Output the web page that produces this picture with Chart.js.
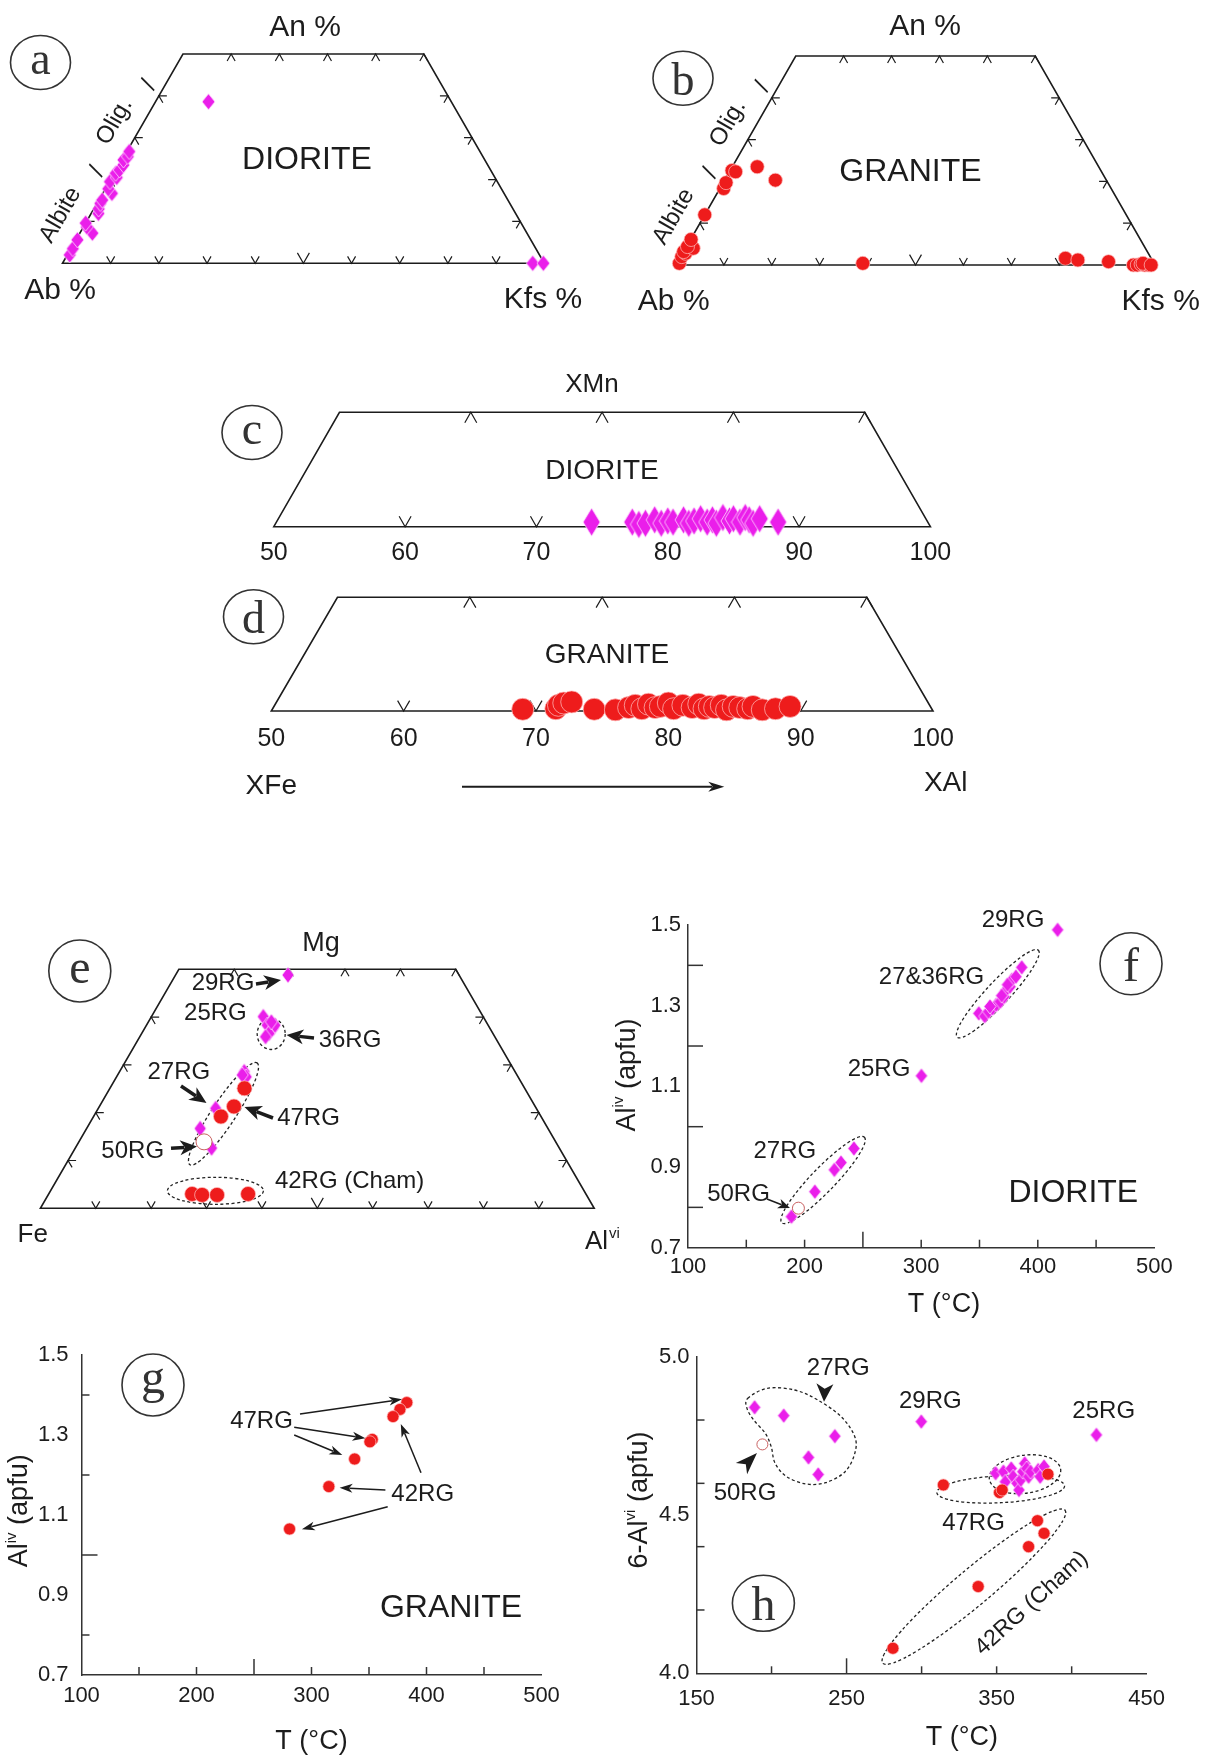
<!DOCTYPE html>
<html><head><meta charset="utf-8"><title>Mineral chemistry diagrams</title>
<script src="https://cdn.jsdelivr.net/npm/chart.js@4.4.1/dist/chart.umd.min.js"></script>
<style>html,body{margin:0;padding:0;background:#fff}#wrap{position:relative;width:1207px;height:1758px;overflow:hidden;background:#fff}#wrap canvas{position:absolute}</style>
</head><body><div id="wrap"></div><script>
// ======================= DATA =======================
// (a) Feldspar, DIORITE  — An %, Kfs %  (Ab = rest)
const aDioriteAn  = [2.0, 3.5, 5.6, 7.2, 8.7, 9.6, 11.9, 13.0, 14.3, 15.1, 16.7, 17.8, 19.5, 20.5, 21.5, 22.3, 23.5, 24.7, 25.5, 26.7, 38.6, 0.0, 0.0];
const aDioriteKfs = [0.5, 0.4, 0.3, 2.6, 0.7, 0.0, 1.5, 1.0, 0.7, 0.7, 1.9, 0.6, 0.1, 1.0, 0.3, 0.7, 0.9, 0.3, 0.8, 0.5, 11.0, 97.6, 99.8];
// (b) Feldspar, GRANITE
const bGraniteAn  = [0.4, 2.0, 2.8, 3.2, 4.0, 4.4, 6.1, 12.0, 18.3, 19.7, 22.6, 22.3, 23.5, 20.3, 0.4, 1.6, 1.2, 0.8, 0.0, 0.0, 0.2, 0.0, 0.0, 0.4, 0.0];
const bGraniteKfs = [0.5, 0.2, 0.6, 0.0, 1.6, 0.2, 0.1, 0.0, 0.8, 0.6, 0.4, 1.3, 5.2, 10.6, 38.8, 80.5, 83.3, 89.9, 95.5, 96.3, 97.0, 97.9, 98.7, 97.3, 99.2];
// (c) DIORITE — position on XFe→XAl axis, XMn
const cDioriteX  = [74.2, 77.3, 77.8, 78.3, 79.0, 79.5, 80.0, 80.4, 81.2, 81.6, 82.0, 82.5, 83.0, 83.4, 83.7, 84.2, 84.7, 85.0, 85.5, 85.9, 86.2, 86.5, 87.0, 88.4];
const cDioriteMn = [0.4, 0.4, 0.2, 0.3, 0.6, 0.3, 0.5, 0.4, 0.6, 0.3, 0.5, 0.7, 0.4, 0.6, 0.3, 0.8, 0.5, 0.7, 0.4, 0.8, 0.6, 0.3, 0.7, 0.4];
// (d) GRANITE
const dGraniteX  = [69.0, 71.5, 71.7, 72.1, 72.7, 74.4, 76.0, 77.0, 77.5, 78.0, 78.5, 79.0, 79.4, 80.0, 80.4, 81.1, 81.8, 82.3, 82.7, 83.1, 83.5, 84.0, 84.4, 84.9, 85.4, 86.0, 86.4, 87.1, 88.1, 89.2];
const dGraniteMn = [0.15, 0.2, 0.5, 0.7, 0.8, 0.15, 0.1, 0.3, 0.5, 0.2, 0.6, 0.3, 0.4, 0.7, 0.2, 0.5, 0.3, 0.6, 0.2, 0.4, 0.3, 0.5, 0.1, 0.4, 0.3, 0.2, 0.4, 0.1, 0.2, 0.4];
// (e) Fe – Mg – Al(vi) — Mg %, Al %
const eDioriteMg = [48.8, 40.1, 38.3, 37.7, 36.6, 35.9, 38.3, 39.0, 28.6, 27.5, 27.9, 20.9, 16.7, 12.6];
const eDioriteAl = [20.3, 20.2, 21.8, 23.2, 23.0, 22.7, 23.2, 22.2, 22.5, 23.4, 22.5, 21.2, 20.5, 24.6];
const eGraniteMg = [25.1, 21.3, 19.2, 3.0, 2.8, 2.8, 3.0];
const eGraniteAl = [24.3, 24.3, 23.0, 25.9, 27.8, 30.5, 36.0];
const e50rgMg = [13.9];
const e50rgAl = [22.6];
// (f) DIORITE — T (°C), Al(iv)
const fDioriteT    = [417, 349.4, 354.4, 357.7, 361.1, 364.4, 367.8, 371.1, 372.8, 376.2, 377.8, 381.2, 386.2, 359.0, 369.0, 374.0, 300.2, 242.3, 231.2, 225.5, 208.8, 188.7];
const fDioriteAliv = [1.488, 1.281, 1.274, 1.285, 1.293, 1.302, 1.310, 1.322, 1.339, 1.347, 1.364, 1.372, 1.395, 1.298, 1.325, 1.352, 1.126, 0.946, 0.911, 0.893, 0.839, 0.777];
const f50rgT = [194.7];
const f50rgAliv = [0.798];
// (g) GRANITE — T (°C), Al(iv)
const gGraniteT    = [382.9, 376.9, 370.9, 352.8, 350.8, 337.5, 315.1, 280.9];
const gGraniteAliv = [1.381, 1.364, 1.346, 1.289, 1.283, 1.240, 1.171, 1.065];
// (h) T (°C), 6 − Al(vi)
const hDioriteT    = [188.7, 208.1, 242.2, 224.6, 231.1, 299.8, 416.5, 349.3, 354.5, 355.8, 359.7, 361.0, 363.6, 364.9, 366.1, 367.4, 368.7, 370.0, 371.3, 372.6, 377.7, 379.0, 381.6];
const hDioriteAlvi = [4.840, 4.814, 4.749, 4.682, 4.628, 4.795, 4.753, 4.632, 4.637, 4.605, 4.647, 4.621, 4.600, 4.579, 4.611, 4.637, 4.663, 4.647, 4.621, 4.637, 4.642, 4.621, 4.653];
const hGraniteT    = [314.5, 351.9, 353.7, 384.2, 377.2, 381.6, 371.3, 337.7, 280.9];
const hGraniteAlvi = [4.595, 4.571, 4.579, 4.629, 4.482, 4.442, 4.400, 4.274, 4.079];
const h50rgT = [193.9];
const h50rgAlvi = [4.723];
// Tick labels / tick positions
const cdTickLabels = [50, 60, 70, 80, 90, 100];
const fgXTicks = [100, 200, 300, 400, 500];
const fgYTicks = [0.7, 0.9, 1.1, 1.3, 1.5];
const hXTicks = [150, 250, 350, 450];
const hYTicks = [4.0, 4.5, 5.0];
const ternBaseTicks = [10, 20, 30, 40, 50, 60, 70, 80, 90];
const ternSideTicks = [10, 20, 30, 40];
const ternTopTicks = [10, 20, 30, 40, 50];
const cdBaseTicks = [60, 70, 80, 90];
const fgXMinor = [150, 200, 250, 300, 350, 400, 450];
const fgYMinor = [0.8, 1.0, 1.2, 1.4];
const hXMinor = [200, 250, 300, 350, 400];
const hYMinor = [4.2, 4.4, 4.6, 4.8];

// ======================= STYLE / HELPERS =======================
const FONT = '"Liberation Sans", Arial, Helvetica, sans-serif';
const SERIF = '"Liberation Serif", "Times New Roman", serif';
const INK = '#1c1c1c';
const MAG = '#EA1EEA';
const RED = '#EE1C1C';
const wrap = document.getElementById('wrap');

function mkCanvas(x, y, w, h) {
  const c = document.createElement('canvas');
  c.width = w; c.height = h;
  c.style.left = x + 'px'; c.style.top = y + 'px';
  c.style.width = w + 'px'; c.style.height = h + 'px';
  wrap.appendChild(c); return c;
}
function fnt(size, fam) { return size + 'px ' + (fam || FONT); }
function T(ctx, s, x, y, size, o) {
  o = o || {};
  ctx.save();
  ctx.font = fnt(size, o.family);
  ctx.fillStyle = o.color || INK;
  ctx.textAlign = o.align || 'center';
  ctx.textBaseline = o.baseline || 'middle';
  ctx.translate(x, y);
  if (o.rot) ctx.rotate(o.rot * Math.PI / 180);
  ctx.fillText(s, 0, 0);
  ctx.restore();
}
function supLabel(ctx, parts, cx, cy, rot, size) {
  ctx.save(); ctx.translate(cx, cy); ctx.rotate(rot * Math.PI / 180);
  ctx.fillStyle = INK; ctx.textBaseline = 'alphabetic'; ctx.textAlign = 'left';
  const small = Math.round(size * 0.55);
  let W = 0;
  parts.forEach(p => { ctx.font = fnt(p.sup ? small : size); p.w = ctx.measureText(p.t).width; W += p.w; });
  let x = -W / 2; const base = size * 0.36;
  parts.forEach(p => { ctx.font = fnt(p.sup ? small : size); ctx.fillText(p.t, x, p.sup ? base - size * 0.42 : base); x += p.w; });
  ctx.restore();
}
function circ(ctx, ch, cx, cy, rx, ry, size) {
  ctx.save();
  ctx.beginPath(); ctx.ellipse(cx, cy, rx, ry, 0, 0, Math.PI * 2);
  ctx.strokeStyle = '#333'; ctx.lineWidth = 1.6; ctx.stroke();
  ctx.font = fnt(size, SERIF); ctx.fillStyle = '#333'; ctx.textAlign = 'center'; ctx.textBaseline = 'alphabetic';
  const m = ctx.measureText(ch);
  ctx.fillText(ch, cx, cy + (m.actualBoundingBoxAscent - m.actualBoundingBoxDescent) / 2);
  ctx.restore();
}
function head(ctx, x, y, ux, uy, hl, hw) {
  const L = Math.hypot(ux, uy); ux /= L; uy /= L;
  const px = -uy, py = ux;
  ctx.beginPath(); ctx.moveTo(x, y);
  ctx.lineTo(x - ux * hl + px * hw / 2, y - uy * hl + py * hw / 2);
  ctx.lineTo(x - ux * hl * 0.72, y - uy * hl * 0.72);
  ctx.lineTo(x - ux * hl - px * hw / 2, y - uy * hl - py * hw / 2);
  ctx.closePath(); ctx.fillStyle = INK; ctx.fill();
}
function arrow(ctx, x1, y1, x2, y2, lw, hl, hw) {
  const dx = x2 - x1, dy = y2 - y1, L = Math.hypot(dx, dy), ux = dx / L, uy = dy / L;
  ctx.save(); ctx.strokeStyle = INK; ctx.lineWidth = lw; ctx.lineCap = 'butt';
  ctx.beginPath(); ctx.moveTo(x1, y1); ctx.lineTo(x2 - ux * hl * 0.75, y2 - uy * hl * 0.75); ctx.stroke();
  head(ctx, x2, y2, ux, uy, hl, hw);
  ctx.restore();
}
function dEll(ctx, cx, cy, rx, ry, rot) {
  ctx.save(); ctx.setLineDash([3, 2.5]); ctx.lineWidth = 1.3; ctx.strokeStyle = '#222';
  ctx.beginPath(); ctx.ellipse(cx, cy, rx, ry, (rot || 0) * Math.PI / 180, 0, Math.PI * 2); ctx.stroke(); ctx.restore();
}
function blob(ctx, pts) {
  ctx.save(); ctx.setLineDash([3, 2.5]); ctx.lineWidth = 1.3; ctx.strokeStyle = '#222'; ctx.beginPath();
  const n = pts.length; ctx.moveTo(pts[0][0], pts[0][1]);
  for (let i = 0; i < n; i++) {
    const p0 = pts[(i - 1 + n) % n], p1 = pts[i], p2 = pts[(i + 1) % n], p3 = pts[(i + 2) % n];
    ctx.bezierCurveTo(p1[0] + (p2[0] - p0[0]) / 6, p1[1] + (p2[1] - p0[1]) / 6,
                      p2[0] - (p3[0] - p1[0]) / 6, p2[1] - (p3[1] - p1[1]) / 6, p2[0], p2[1]);
  }
  ctx.stroke(); ctx.restore();
}
function diamondImg(w, h, fill, stroke) {
  const c = document.createElement('canvas'); c.width = w + 2; c.height = h + 2;
  const g = c.getContext('2d');
  g.beginPath(); g.moveTo(c.width / 2, 1); g.lineTo(c.width - 1, c.height / 2); g.lineTo(c.width / 2, c.height - 1); g.lineTo(1, c.height / 2); g.closePath();
  g.fillStyle = fill; g.fill(); g.strokeStyle = stroke; g.lineWidth = 0.8; g.stroke();
  return c;
}
const diamondSet = (w, h) => ({ pointStyle: diamondImg(w, h, MAG, 'rgba(255,225,255,0.95)'), pointRadius: Math.max(w, h) / 2 });
const dotSet = r => ({ pointStyle: 'circle', pointRadius: r, backgroundColor: RED, borderColor: 'rgba(255,190,190,0.9)', borderWidth: 0.8 });
const openSet = r => ({ pointStyle: 'circle', pointRadius: r, backgroundColor: '#fff', borderColor: '#C86060', borderWidth: 1 });
const tern = (an, kfs) => an.map((v, i) => ({ x: kfs[i] + v / 2, y: v }));
const pairs = (xs, ys) => xs.map((v, i) => ({ x: v, y: ys[i] }));
function ds(data, style) { return Object.assign({ data, clip: false, showLine: false }, style); }

function baseOptions(extra) {
  return Object.assign({ responsive: false, maintainAspectRatio: false, animation: false, devicePixelRatio: 1, events: [],
    plugins: { legend: { display: false }, tooltip: { enabled: false } } }, extra);
}
function decoPlugin(ox, oy, before, after) {
  const H = chart => ({ X: v => chart.scales.x.getPixelForValue(v) + ox, Y: v => chart.scales.y.getPixelForValue(v) + oy,
    L: chart.chartArea.left + ox, R: chart.chartArea.right + ox, Tp: chart.chartArea.top + oy, B: chart.chartArea.bottom + oy });
  return {
    id: 'deco',
    beforeDatasetsDraw(chart) { if (before) { const c = chart.ctx; c.save(); c.translate(-ox, -oy); before(c, H(chart)); c.restore(); } },
    afterDatasetsDraw(chart) { if (after) { const c = chart.ctx; c.save(); c.translate(-ox, -oy); after(c, H(chart)); c.restore(); } }
  };
}
// Ternary (truncated) frame with chevron ticks
function ternFrame(ctx, h, f) {
  const pts = [[f.x0, 0], [f.x1, 0], [f.x1 - f.top / 2, f.top], [f.x0 + f.top / 2, f.top]];
  ctx.save();
  ctx.beginPath(); pts.forEach((p, i) => { const a = h.X(p[0]), b = h.Y(p[1]); i ? ctx.lineTo(a, b) : ctx.moveTo(a, b); }); ctx.closePath();
  ctx.strokeStyle = INK; ctx.lineWidth = 1.6; ctx.lineJoin = 'miter'; ctx.stroke();
  const nrm = (a, b) => { const l = Math.hypot(a, b); return [a / l, b / l]; };
  const ur = nrm(h.X(f.x0 + 0.5) - h.X(f.x0), h.Y(1) - h.Y(0));
  const ul = nrm(h.X(f.x0 - 0.5) - h.X(f.x0), h.Y(1) - h.Y(0));
  const chev = (px, py, a, b, len) => { ctx.beginPath(); ctx.moveTo(px + a[0] * len, py + a[1] * len); ctx.lineTo(px, py); ctx.lineTo(px + b[0] * len, py + b[1] * len); ctx.stroke(); };
  ctx.lineWidth = 1.2;
  f.base.forEach(v => chev(h.X(v), h.Y(0), ur, ul, v === f.big ? f.bigLen : f.len));
  f.topT.forEach(v => chev(h.X(v + f.top / 2), h.Y(f.top), [-ur[0], -ur[1]], [-ul[0], -ul[1]], f.len));
  f.side.forEach(v => chev(h.X(f.x0 + v / 2), h.Y(v), [1, 0], [-ul[0], -ul[1]], f.len));
  f.side.forEach(v => chev(h.X(f.x1 - v / 2), h.Y(v), [-1, 0], [-ur[0], -ur[1]], f.len));
  ctx.restore();
}
function ternChart(rect, area, xr, ytop, datasets, before, after, axis) {
  const cv = mkCanvas(rect.x, rect.y, rect.w, rect.h);
  let xs = { type: 'linear', min: xr[0], max: xr[1], display: false };
  if (axis) {
    xs = { type: 'linear', min: xr[0], max: xr[1], display: true, position: 'bottom',
      grid: { display: false, drawTicks: false }, border: { display: false },
      ticks: { font: { family: FONT, size: 25 }, color: INK, padding: axis.pad, maxRotation: 0, autoSkip: false, callback: v => String(v) },
      afterBuildTicks: s => { s.ticks = axis.ticks.map(v => ({ value: v })); },
      afterFit: s => { s.height = axis.h; } };
  }
  const pad = { left: area.l - rect.x, right: rect.x + rect.w - area.r, top: area.t - rect.y,
    bottom: rect.y + rect.h - area.b - (axis ? axis.h : 0) };
  return new Chart(cv, { type: 'scatter', data: { datasets },
    options: baseOptions({ layout: { padding: pad }, scales: { x: xs, y: { type: 'linear', min: 0, max: ytop, display: false } } }),
    plugins: [decoPlugin(rect.x, rect.y, before, after)] });
}
function minorTicks(ctx, h, xs, xLen, xBig, xBigLen, ys, yLen, yBig, yBigLen) {
  ctx.save(); ctx.strokeStyle = '#333'; ctx.lineWidth = 1.5;
  xs.forEach(v => { const p = h.X(v), L = v === xBig ? xBigLen : xLen; ctx.beginPath(); ctx.moveTo(p, h.B); ctx.lineTo(p, h.B - L); ctx.stroke(); });
  ys.forEach(v => { const p = h.Y(v), L = v === yBig ? yBigLen : yLen; ctx.beginPath(); ctx.moveTo(h.L, p); ctx.lineTo(h.L + L, p); ctx.stroke(); });
  ctx.restore();
}
function xyChart(rect, area, cfg, datasets, before, after) {
  const cv = mkCanvas(rect.x, rect.y, rect.w, rect.h);
  const tf = { family: FONT, size: 22 };
  const scales = {
    x: { type: 'linear', min: cfg.xr[0], max: cfg.xr[1], position: 'bottom',
      grid: { display: false, drawTicks: false }, border: { display: true, color: '#333', width: 1.5 },
      ticks: { font: tf, color: INK, padding: cfg.xPad, maxRotation: 0, autoSkip: false, callback: v => String(v) },
      afterBuildTicks: s => { s.ticks = cfg.xTicks.map(v => ({ value: v })); },
      afterFit: s => { s.height = rect.y + rect.h - area.b; } },
    y: { type: 'linear', min: cfg.yr[0], max: cfg.yr[1], position: 'left',
      grid: { display: false, drawTicks: false }, border: { display: true, color: '#333', width: 1.5 },
      ticks: { font: tf, color: INK, padding: cfg.yPad, callback: v => Number(v).toFixed(1) },
      afterBuildTicks: s => { s.ticks = cfg.yTicks.map(v => ({ value: v })); },
      afterFit: s => { s.width = area.l - rect.x; } }
  };
  return new Chart(cv, { type: 'scatter', data: { datasets },
    options: baseOptions({ layout: { padding: { left: 0, bottom: 0, top: area.t - rect.y, right: rect.x + rect.w - area.r } }, scales }),
    plugins: [decoPlugin(rect.x, rect.y, before, after)] });
}
const rot60 = { rot: -60 };

// ======================= PANEL a =======================
ternChart({ x: 0, y: 0, w: 600, h: 330 }, { l: 62.5, r: 544.3, t: 54, b: 263.3 }, [0, 100], 50,
  [ds(tern(aDioriteAn, aDioriteKfs), diamondSet(13, 16))],
  (ctx, h) => {
    ternFrame(ctx, h, { x0: 0, x1: 100, top: 50, base: ternBaseTicks, big: 50, bigLen: 12, len: 8, topT: ternTopTicks, side: ternSideTicks });
    T(ctx, 'An %', 305, 28, 30); T(ctx, 'DIORITE', 307, 160, 32);
    T(ctx, 'Ab %', 60, 291, 30); T(ctx, 'Kfs %', 543, 300, 30);
    T(ctx, 'Albite', 60.5, 215, 24, rot60); T(ctx, '/', 97.5, 171.5, 24, rot60);
    T(ctx, 'Olig.', 114.5, 121.5, 24, rot60); T(ctx, '/', 149.5, 85, 24, rot60);
    circ(ctx, 'a', 40.5, 62.5, 30, 27, 46);
  });

// ======================= PANEL b =======================
ternChart({ x: 600, y: 0, w: 607, h: 330 }, { l: 676, r: 1155, t: 56, b: 265 }, [0, 100], 50,
  [ds(tern(bGraniteAn, bGraniteKfs), dotSet(7))],
  (ctx, h) => {
    ternFrame(ctx, h, { x0: 0, x1: 100, top: 50, base: ternBaseTicks, big: 50, bigLen: 12, len: 8, topT: ternTopTicks, side: ternSideTicks });
    T(ctx, 'An %', 925, 27, 30); T(ctx, 'GRANITE', 910.4, 171.7, 32);
    T(ctx, 'Ab %', 673.7, 301.7, 30); T(ctx, 'Kfs %', 1160.7, 301.7, 30);
    T(ctx, 'Albite', 673.7, 216.7, 24, rot60); T(ctx, '/', 710.6, 173.3, 24, rot60);
    T(ctx, 'Olig.', 728, 123.3, 24, rot60); T(ctx, '/', 763, 86.7, 24, rot60);
    circ(ctx, 'b', 683, 78.3, 30, 27, 46);
  });

// ======================= PANEL c =======================
ternChart({ x: 200, y: 350, w: 800, h: 230 }, { l: 273.8, r: 930.4, t: 412.3, b: 526.7 }, [50, 100], 10,
  [ds(pairs(cDioriteX, cDioriteMn), diamondSet(17, 28))],
  (ctx, h) => {
    ternFrame(ctx, h, { x0: 50, x1: 100, top: 10, base: cdBaseTicks, big: null, len: 12, topT: cdBaseTicks, side: [] });
    T(ctx, 'XMn', 591.9, 385, 26); T(ctx, 'DIORITE', 602, 471.7, 28);
    circ(ctx, 'c', 252, 432.5, 30, 27, 46);
  }, null, { h: 40, pad: 11, ticks: cdTickLabels });

// ======================= PANEL d =======================
ternChart({ x: 200, y: 580, w: 800, h: 230 }, { l: 271.3, r: 933, t: 597.3, b: 711 }, [50, 100], 10,
  [ds(pairs(dGraniteX, dGraniteMn), dotSet(11))],
  (ctx, h) => {
    ternFrame(ctx, h, { x0: 50, x1: 100, top: 10, base: cdBaseTicks, big: null, len: 12, topT: cdBaseTicks, side: [] });
    T(ctx, 'GRANITE', 607, 655, 28);
    circ(ctx, 'd', 253.5, 616.7, 30, 27, 46);
    T(ctx, 'XFe', 271.3, 786.7, 28); T(ctx, 'XAl', 945.7, 783.3, 28);
    arrow(ctx, 462, 786.7, 724.3, 786.7, 2, 16, 10);
  }, null, { h: 40, pad: 13, ticks: cdTickLabels });

// ======================= PANEL e =======================
ternChart({ x: 0, y: 900, w: 640, h: 360 }, { l: 40.4, r: 594.2, t: 969.3, b: 1208.3 }, [0, 100], 50,
  [ds(tern(e50rgMg, e50rgAl), openSet(8)), ds(tern(eGraniteMg, eGraniteAl), dotSet(7.5)), ds(tern(eDioriteMg, eDioriteAl), diamondSet(12, 16))],
  (ctx, h) => {
    ternFrame(ctx, h, { x0: 0, x1: 100, top: 50, base: ternBaseTicks, big: 50, bigLen: 12, len: 8, topT: ternTopTicks, side: ternSideTicks });
    T(ctx, 'Mg', 321, 944, 27); T(ctx, 'Fe', 32.7, 1235, 26);
    T(ctx, 'Al', 585, 1241.7, 26, { align: 'left' }); T(ctx, 'vi', 609, 1234, 15, { align: 'left' });
    circ(ctx, 'e', 79.8, 971, 31, 31, 48);
    T(ctx, '29RG', 223, 983.3, 24); T(ctx, '25RG', 215.4, 1013.5, 24); T(ctx, '36RG', 350, 1040, 24);
    T(ctx, '27RG', 178.8, 1072, 24); T(ctx, '47RG', 308.5, 1118.3, 24); T(ctx, '50RG', 132.7, 1151.7, 24);
    T(ctx, '42RG (Cham)', 349.6, 1181.7, 24);
    dEll(ctx, 271.2, 1034, 14, 15.5, 0); dEll(ctx, 223.5, 1113.8, 61, 12, -56.6); dEll(ctx, 215.4, 1190.8, 48, 13.5, 0);
  },
  (ctx) => {
    arrow(ctx, 256, 984, 281, 980, 3.5, 17, 15);
    arrow(ctx, 314, 1038, 286.5, 1035, 3.5, 17, 15);
    arrow(ctx, 181, 1086, 206.5, 1103, 3.5, 17, 15);
    arrow(ctx, 273, 1118, 244.5, 1107, 3.5, 17, 15);
    arrow(ctx, 171, 1148.3, 197, 1146.5, 3.5, 17, 15);
  });

// ======================= PANEL f =======================
xyChart({ x: 600, y: 880, w: 607, h: 440 }, { l: 688, r: 1154.4, t: 925, b: 1247.7 },
  { xr: [100, 500], yr: [0.7, 1.5], xTicks: fgXTicks, yTicks: fgYTicks, xPad: 6, yPad: 7 },
  [ds(pairs(f50rgT, f50rgAliv), openSet(6)), ds(pairs(fDioriteT, fDioriteAliv), diamondSet(12, 15))],
  (ctx, h) => {
    minorTicks(ctx, h, fgXMinor, 8, 250, 16, fgYMinor, 15, null, 15);
    supLabel(ctx, [{ t: 'Al' }, { t: 'iv', sup: true }, { t: ' (apfu)' }], 625, 1075, -90, 27);
    T(ctx, 'T (°C)', 944, 1305, 27);
    T(ctx, '29RG', 1013, 920.5, 24); T(ctx, '27&36RG', 931.5, 977.5, 24); T(ctx, '25RG', 879, 1069, 24);
    T(ctx, '27RG', 784.8, 1151, 24); T(ctx, '50RG', 738.5, 1194, 24); T(ctx, 'DIORITE', 1073.3, 1193.3, 32);
    circ(ctx, 'f', 1131, 963.8, 31, 31, 48);
    dEll(ctx, 997.8, 993.7, 59.5, 11.5, -47); dEll(ctx, 823.1, 1180, 59.5, 12, -46);
  },
  (ctx) => { arrow(ctx, 767, 1199, 790, 1208, 1.5, 12, 10); });

// ======================= PANEL g =======================
xyChart({ x: 0, y: 1320, w: 600, h: 438 }, { l: 81.5, r: 541.5, t: 1355, b: 1675 },
  { xr: [100, 500], yr: [0.7, 1.5], xTicks: fgXTicks, yTicks: fgYTicks, xPad: 8, yPad: 13 },
  [ds(pairs(gGraniteT, gGraniteAliv), dotSet(6))],
  (ctx, h) => {
    minorTicks(ctx, h, fgXMinor, 8, 250, 16, fgYMinor, 8, 1.0, 16);
    supLabel(ctx, [{ t: 'Al' }, { t: 'iv', sup: true }, { t: ' (apfu)' }], 17.3, 1510.8, -90, 27);
    T(ctx, 'T (°C)', 311.5, 1741.5, 27);
    T(ctx, '47RG', 261.5, 1421, 24); T(ctx, '42RG', 422.7, 1494, 24); T(ctx, 'GRANITE', 451, 1608.3, 32);
    circ(ctx, 'g', 153, 1385, 31, 31, 48);
  },
  (ctx) => {
    arrow(ctx, 300, 1414, 402, 1399.3, 1.5, 13, 9);
    arrow(ctx, 294.2, 1427.3, 365.4, 1438.3, 1.5, 13, 9);
    arrow(ctx, 294.2, 1435, 342.3, 1455, 1.5, 13, 9);
    arrow(ctx, 421, 1472.7, 400.8, 1424, 1.5, 13, 9);
    arrow(ctx, 385.4, 1490, 339.6, 1487.7, 1.5, 13, 9);
    arrow(ctx, 387.7, 1506.7, 301.9, 1529.3, 1.5, 13, 9);
  });

// ======================= PANEL h =======================
xyChart({ x: 600, y: 1320, w: 607, h: 438 }, { l: 696.5, r: 1146.7, t: 1356.7, b: 1673.3 },
  { xr: [150, 450], yr: [4.0, 5.0], xTicks: hXTicks, yTicks: hYTicks, xPad: 12, yPad: 7 },
  [ds(pairs(h50rgT, h50rgAlvi), openSet(5.5)), ds(pairs(hGraniteT, hGraniteAlvi), dotSet(6)), ds(pairs(hDioriteT, hDioriteAlvi), diamondSet(12, 15))],
  (ctx, h) => {
    minorTicks(ctx, h, hXMinor, 7, 250, 15, hYMinor, 8, null, 8);
    supLabel(ctx, [{ t: '6-Al' }, { t: 'vi', sup: true }, { t: ' (apfu)' }], 637, 1500, -90, 27);
    T(ctx, 'T (°C)', 961.8, 1737.5, 27);
    T(ctx, '27RG', 838.2, 1368.3, 24); T(ctx, '50RG', 745, 1493.3, 24); T(ctx, '29RG', 930.3, 1401.7, 24);
    T(ctx, '25RG', 1103.7, 1411.7, 24); T(ctx, '47RG', 973.5, 1523.3, 24);
    T(ctx, '42RG (Cham)', 1031.7, 1603.3, 23, { rot: -42 });
    circ(ctx, 'h', 763.4, 1603.3, 31, 28, 48);
    blob(ctx, [[747.8, 1398.3], [767.3, 1388.3], [794.5, 1390], [817.8, 1400], [841.2, 1416.7], [854.8, 1436.7], [854.8, 1453.3],
      [845.1, 1471.7], [825.6, 1482.7], [806.2, 1484], [786.7, 1476.7], [775.1, 1463.3], [771.2, 1446.7], [765.3, 1433.3], [753.7, 1420], [747, 1408.3]]);
    dEll(ctx, 1025, 1474.2, 36, 19, -8); dEll(ctx, 1000.7, 1489.2, 64, 13.5, -3); dEll(ctx, 973.9, 1586.7, 119, 18, -40);
  },
  (ctx) => {
    head(ctx, 824, 1401.7, -0.05, 1, 18, 17);
    head(ctx, 757, 1453, 0.7, -0.7, 22, 16);
  });
</script></body></html>
